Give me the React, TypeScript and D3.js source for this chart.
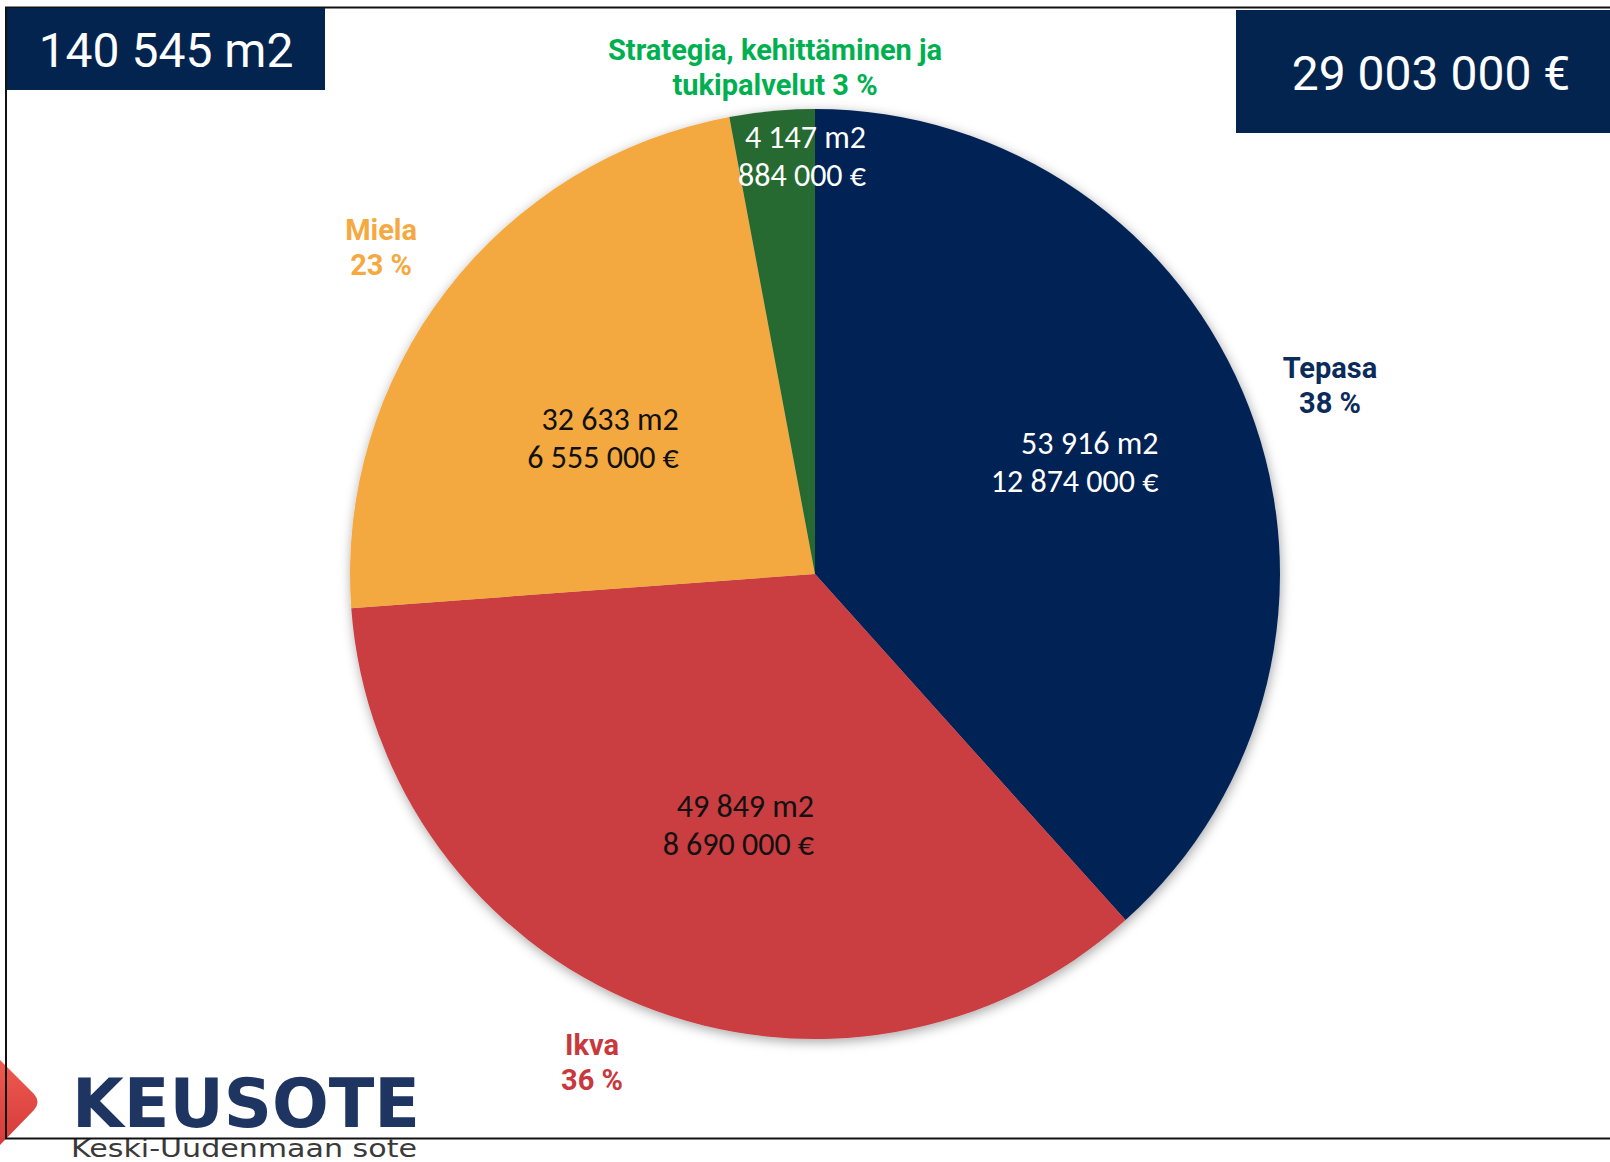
import React from "react"
import * as d3 from "d3"

// slices, clockwise from 12 o'clock
const categories = ["Tepasa", "Ikva", "Miela", "Strategia, kehittäminen ja tukipalvelut"]
const areaM2 = [53916, 49849, 32633, 4147]
const costEur = [12874000, 8690000, 6555000, 884000]
const shareLabels = ["38 %", "36 %", "23 %", "3 %"]
// category label split into lines as in the reference
const categoryLines = [
  ["Tepasa", "38 %"],
  ["Ikva", "36 %"],
  ["Miela", "23 %"],
  ["Strategia, kehittäminen ja", "tukipalvelut 3 %"],
]

const sliceColors = ["#022455", "#CA3C40", "#F4A941", "#256B30"]
const nameColors = ["#0B2B5B", "#C8383C", "#F4A941", "#00B050"]
const valueColors = ["#ffffff", "#111111", "#111111", "#ffffff"]

// label placement, polar from the pie centre (deg clockwise from top, px)
const outerLabelPos = [
  { a: 70.9, r: 545 },
  { a: 204.1, r: 546 },
  { a: 306.1, r: 537 },
  { a: 355.4, r: 498 },
]
const innerLabelPos = [
  { a: 73.6, r: 358 },
  { a: 180.2, r: 262 },
  { a: 312.6, r: 185 },
  { a: 7.15, r: 410 },
]

const W = 1610
const H = 1162
const cx = 815
const cy = 574
const radius = 465

const locale = d3.formatLocale({ decimal: ",", thousands: " ", grouping: [3], currency: ["", " €"] })
const fmt = locale.format(",")

const polar = (aDeg: number, r: number) => {
  const a = (aDeg * Math.PI) / 180
  return [cx + r * Math.sin(a), cy - r * Math.cos(a)]
}

export default function App() {
  const rows = categories.map((c, i) => ({ name: c, area: areaM2[i], cost: costEur[i], share: shareLabels[i] }))
  const pie = d3.pie<any>().sort(null).value((d) => d.area)
  const arc = d3.arc<any>().innerRadius(0).outerRadius(radius)
  const arcs = pie(rows)

  const totalArea = d3.sum(areaM2)
  const totalCost = d3.sum(costEur)

  return (
    <div style={{ position: "absolute", left: 0, top: 0 }}>
      <svg width={W} height={H} viewBox={`0 0 ${W} ${H}`} style={{ display: "block", background: "#fff" }}>
        <defs>
          <filter id="pieShadow" x="-10%" y="-10%" width="120%" height="120%">
            <feDropShadow dx="1" dy="3" stdDeviation="6" floodColor="#000" floodOpacity="0.35" />
          </filter>
          <linearGradient id="logoRed" x1="0" y1="0" x2="0" y2="1">
            <stop offset="0%" stopColor="#EE5A4F" />
            <stop offset="100%" stopColor="#D63B3B" />
          </linearGradient>
        </defs>

        <g transform={`translate(${cx},${cy})`} filter="url(#pieShadow)">
          {arcs.map((d, i) => (
            <path key={i} d={arc(d) || ""} fill={sliceColors[i]} />
          ))}
        </g>

        {arcs.map((d, i) => {
          const [x, y] = polar(innerLabelPos[i].a, innerLabelPos[i].r)
          return (
            <text
              key={"v" + i}
              x={x}
              textAnchor="end"
              fontFamily="Carlito, 'Open Sans', sans-serif"
              fontSize={32}
              fill={valueColors[i]}
            >
              <tspan x={x} y={y - 19}>{fmt(d.data.area)} m2</tspan>
              <tspan x={x} y={y + 19}>{fmt(d.data.cost)} €</tspan>
            </text>
          )
        })}

        {arcs.map((d, i) => {
          const [x, y] = polar(outerLabelPos[i].a, outerLabelPos[i].r)
          return (
            <text
              key={"n" + i}
              textAnchor="middle"
              fontFamily="Roboto, sans-serif"
              fontWeight="bold"
              fontSize={29}
              fill={nameColors[i]}
            >
              <tspan x={x} y={y - 17.5}>{categoryLines[i][0]}</tspan>
              <tspan x={x} y={y + 17.5}>{categoryLines[i][1]}</tspan>
            </text>
          )
        })}

        {/* logo */}
        <path d="M0,1060 L34,1094 Q41,1102 34,1110 L0,1145 Z" fill="url(#logoRed)" />
        <text
          x={72}
          y={1127}
          fontFamily="'DejaVu Sans', sans-serif"
          fontWeight="bold"
          fontSize={68}
          fill="#1E3461"
          textLength={348}
          lengthAdjust="spacingAndGlyphs"
        >
          KEUSOTE
        </text>
        <text
          x={71}
          y={1157}
          fontFamily="'DejaVu Sans', sans-serif"
          fontSize={24}
          fill="#3a3a3a"
          textLength={346}
          lengthAdjust="spacingAndGlyphs"
        >
          Keski-Uudenmaan sote
        </text>

        {/* frame */}
        <rect x={6} y={7.5} width={W + 20} height={1131} fill="none" stroke="#111" strokeWidth={2} />

        {/* totals */}
        <rect x={7} y={8} width={318} height={82} fill="#03244F" />
        <text x={166} y={67} textAnchor="middle" fontFamily="Roboto, sans-serif" fontSize={48} fill="#fff">
          {fmt(totalArea)} m2
        </text>
        <rect x={1236} y={10} width={W - 1236} height={123} fill="#03244F" />
        <text x={1431} y={90} textAnchor="middle" fontFamily="Roboto, sans-serif" fontSize={48} fill="#fff">
          {fmt(totalCost)} €
        </text>
      </svg>
    </div>
  )
}
